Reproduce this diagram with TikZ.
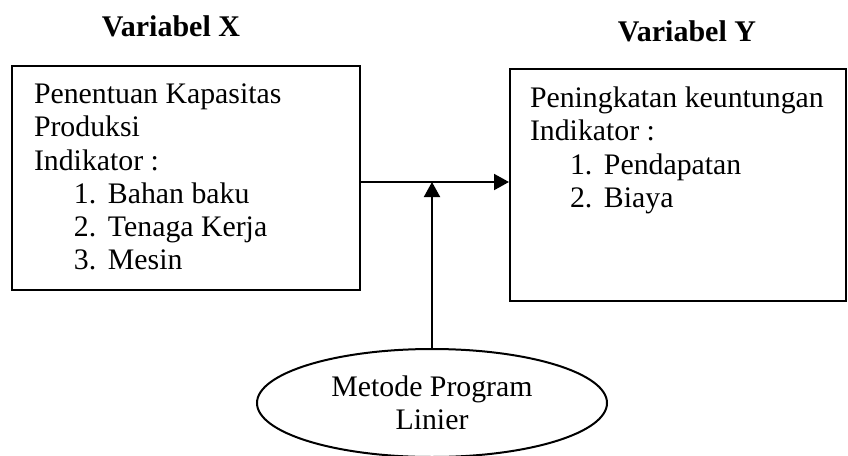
\documentclass[tikz,border=0pt]{standalone}
\usepackage{fontspec}
\setmainfont{Liberation Serif}
\usepackage{tikz}
\usetikzlibrary{positioning,shapes.geometric,arrows.meta}

\newcommand{\butir}[2]{\hspace*{20pt}\makebox[17pt][l]{#1}#2}

\begin{document}
\begin{tikzpicture}[x=0.5pt, y=-0.5pt, line width=1pt,
  every node/.style={font=\fontsize{14.9}{16.6}\selectfont},
  kotak/.style={draw, rectangle, inner sep=0pt},
  isi/.style={align=left, inner sep=0pt, anchor=north west},
  judul/.style={font=\fontsize{15}{16.6}\selectfont\bfseries, anchor=base},
  panah/.style={-{Triangle[length=7.5pt,width=8pt]}}]
  \useasboundingbox (0,0) rectangle (848,456);

  % Variabel X
  \node[judul] (jx) at (171,36) {Variabel X};
  \node[kotak, minimum width=174pt, minimum height=112pt] (xbox) at (186,178) {};
  \node[isi, below right=9pt and 11pt of xbox.north west] (xisi)
    {Penentuan Kapasitas\\Produksi\\Indikator :\\
     \butir{1.}{Bahan baku}\\\butir{2.}{Tenaga Kerja}\\\butir{3.}{Mesin}};

  % Variabel Y
  \node[judul] (jy) at (687,41) {Variabel Y};
  \node[kotak, minimum width=168pt, minimum height=116pt] (ybox) at (678,185) {};
  \node[isi, below right=9pt and 10pt of ybox.north west] (yisi)
    {Peningkatan keuntungan\\Indikator :\\
     \butir{1.}{Pendapatan}\\\butir{2.}{Biaya}};

  % Metode
  \node[draw, ellipse, minimum width=175pt, minimum height=54pt, align=center,
        inner sep=0pt] (metode) at (432,403) {Metode Program\\Linier};

  % Panah
  \draw[panah] (xbox.east |- 0,182) coordinate (xk) -- (xk -| ybox.west);
  \draw[panah] (metode.north) -- (metode.north |- xk);
\end{tikzpicture}
\end{document}
